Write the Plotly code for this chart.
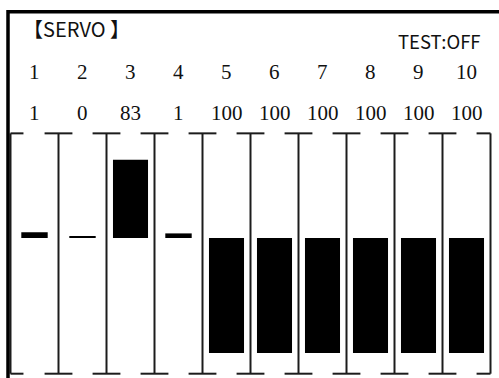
"""Servo monitor screen: channel outputs drawn as bars inside bracket gauges."""
import plotly.graph_objects as go

channels = [1, 2, 3, 4, 5, 6, 7, 8, 9, 10]
channel_labels = ["1", "2", "3", "4", "5", "6", "7", "8", "9", "10"]
value_labels = ["1", "0", "83", "1", "100", "100", "100", "100", "100", "100"]
# drawn bar extent on the gauge (0 = centre line, up positive, down negative)
bar_level = [5, 1.7, 68, 4, -100, -100, -100, -100, -100, -100]

TITLE = "【SERVO 】"
STATUS = "TEST:OFF"

W, H = 499, 378
GAUGE_TOP = 91
GAUGE_BOTTOM = -118
LINE_COL = "#1c1c1c"
SERIF = "Liberation Serif"
SANS = "Noto Sans CJK SC"

# x: channel n sits at 34.5 + 48*(n-1) px ; y: centre line at 238 px, 1.15 px per unit
X_RANGE = [1 - 34.5 / 48, 1 + (W - 34.5) / 48]
Y_RANGE = [(238 - H) / 1.15, 238 / 1.15]

fig = go.Figure()
fig.add_trace(go.Bar(
    x=channels,
    y=bar_level,
    width=[0.55 if abs(v) < 10 else 0.73 for v in bar_level],
    marker=dict(color="#000000", line=dict(width=0)),
    hoverinfo="skip",
))

# bracket gauges between channels
shapes = []
seps = [c - 0.5 for c in channels] + [channels[-1] + 0.5]
for i, sx in enumerate(seps):
    left = 0 if i == 0 else 0.29
    right = 0.27 if i == 0 else (0.19 if i == len(seps) - 1 else 0.29)
    if i == len(seps) - 1:
        right = 0
    line = dict(color=LINE_COL, width=2)
    shapes.append(dict(type="line", xref="x", yref="y", x0=sx, x1=sx,
                       y0=GAUGE_BOTTOM, y1=GAUGE_TOP, line=line))
    for gy in (GAUGE_TOP, GAUGE_BOTTOM):
        shapes.append(dict(type="line", xref="x", yref="y", x0=sx - left, x1=sx + right,
                           y0=gy, y1=gy, line=line))

# screen frame (top and left edges)
bx = 8 / W
by = 1 - 11.7 / H
shapes.append(dict(type="path", xref="paper", yref="paper",
                   path=f"M {bx},0 L {bx},{by} L 1.01,{by}",
                   line=dict(color="#000000", width=3.5)))

annotations = []
for c, lab, val in zip(channels, channel_labels, value_labels):
    annotations.append(dict(x=c, y=1 - 72 / H, xref="x", yref="paper", text=lab,
                            showarrow=False, xanchor="center", yanchor="middle",
                            font=dict(family=SERIF, size=21, color="#111111")))
    annotations.append(dict(x=c, y=1 - 113 / H, xref="x", yref="paper", text=val,
                            showarrow=False, xanchor="center", yanchor="middle",
                            font=dict(family=SERIF, size=21, color="#111111")))

annotations.append(dict(x=21 / W, y=1 - 28 / H, xref="paper", yref="paper", text=TITLE,
                        showarrow=False, xanchor="left", yanchor="middle",
                        font=dict(family=SANS, size=20, color="#111111")))
annotations.append(dict(x=396 / W, y=1 - 41 / H, xref="paper", yref="paper", text=STATUS,
                        showarrow=False, xanchor="left", yanchor="middle",
                        font=dict(family=SANS, size=18.5, color="#111111")))

fig.update_layout(
    width=W,
    height=H,
    margin=dict(l=0, r=0, t=0, b=0),
    paper_bgcolor="white",
    plot_bgcolor="white",
    showlegend=False,
    xaxis=dict(range=X_RANGE, visible=False, fixedrange=True),
    yaxis=dict(range=Y_RANGE, visible=False, fixedrange=True),
    shapes=shapes,
    annotations=annotations,
)

fig.write_html("out.html", config={"displayModeBar": False},
               post_script="document.body.style.margin='0';")
